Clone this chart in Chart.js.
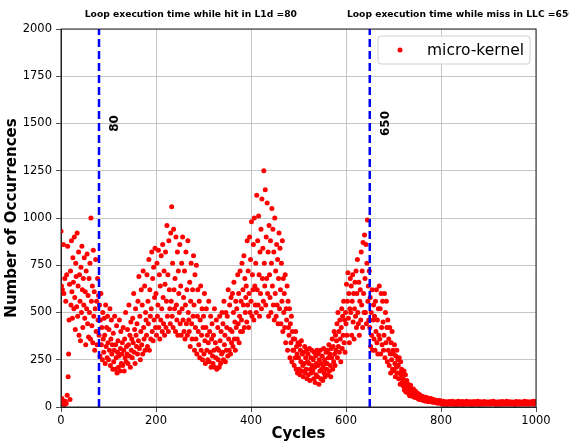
<!DOCTYPE html>
<html>
<head>
<meta charset="utf-8">
<script src="https://cdn.jsdelivr.net/npm/chart.js@4"></script>
<style>
  body { margin: 0; background: #fff; }
  #wrap { width: 569px; height: 445px; }
</style>
</head>
<body>
<div id="wrap"><canvas id="chart" width="569" height="445"></canvas></div>
<script>
// occurrences per cycle count (index = cycles within block)
const occ000 = [
  930, 640, 45, 620, 25, 860, 600, 12, 680, 30,
  560, 18, 700, 62, 850, 160, 280, 460, 650, 40,
  720, 540, 880, 610, 470, 790, 660, 520, 900, 580,
  410, 760, 690, 530, 920, 480, 640, 820, 380, 700,
  560, 350, 740, 500, 850, 620, 420, 680, 540, 790,
  470, 610, 330, 720, 520, 810, 440, 590, 370, 680,
  500, 760, 360, 1000, 560, 430, 640, 340, 830, 480,
  610, 300, 520, 780, 400, 560, 330, 680, 460, 590,
  380, 540, 270, 460, 600, 330, 420, 250, 500, 360,
  290, 470, 380, 230, 540, 320, 420, 260, 480, 340
];
const occ100 = [
  250, 410, 300, 520, 220, 360, 460, 280, 330, 200,
  390, 240, 300, 480, 200, 330, 260, 430, 180, 290,
  350, 210, 270, 460, 190, 310, 400, 230, 280, 340,
  220, 420, 300, 190, 360, 260, 500, 240, 320, 280,
  410, 230, 330, 540, 270, 380, 210, 450, 300, 360,
  260, 470, 340, 600, 290, 410, 230, 520, 380, 320,
  440, 280, 560, 350, 690, 310, 480, 250, 400, 620,
  330, 540, 280, 720, 420, 360, 640, 300, 500, 460,
  380, 700, 320, 560, 440, 780, 300, 620, 480, 360,
  520, 820, 400, 680, 350, 740, 460, 580, 840, 420
];
const occ200 = [
  600, 380, 760, 480, 540, 830, 420, 700, 360, 640,
  460, 800, 520, 400, 860, 580, 440, 720, 380, 650,
  820, 420, 560, 960, 480, 700, 400, 880, 620, 520,
  440, 920, 560, 1060, 480, 760, 420, 940, 620, 520,
  680, 400, 900, 540, 460, 820, 380, 720, 600, 500,
  860, 440, 640, 380, 760, 520, 900, 460, 580, 400,
  720, 360, 540, 820, 440, 620, 380, 880, 500, 460,
  400, 660, 320, 560, 760, 440, 360, 620, 480, 800,
  540, 300, 700, 420, 360, 750, 280, 480, 620, 400,
  330, 560, 260, 460, 640, 300, 380, 520, 250, 420
];
const occ300 = [
  480, 280, 600, 350, 230, 420, 520, 300, 380, 250,
  340, 560, 240, 400, 290, 480, 210, 360, 440, 270,
  230, 380, 300, 520, 210, 340, 260, 460, 200, 310,
  420, 250, 300, 210, 480, 350, 230, 400, 280, 500,
  290, 440, 250, 560, 330, 380, 240, 500, 300, 420,
  480, 270, 620, 360, 300, 540, 410, 280, 580, 340,
  400, 600, 320, 500, 660, 360, 450, 300, 560, 420,
  520, 360, 700, 440, 600, 340, 480, 720, 400, 560,
  460, 760, 400, 620, 540, 800, 420, 680, 500, 580,
  640, 450, 880, 540, 720, 420, 600, 900, 500, 780
];
const occ400 = [
  560, 980, 480, 700, 620, 860, 460, 1000, 640, 540,
  760, 500, 1120, 620, 880, 540, 1010, 700, 480, 820,
  600, 940, 520, 1100, 680, 840, 560, 1250, 760, 640,
  1150, 540, 900, 680, 1080, 600, 820, 480, 960, 700,
  580, 880, 500, 760, 1050, 640, 940, 540, 820, 460,
  1000, 600, 720, 480, 860, 540, 780, 440, 680, 920,
  520, 840, 620, 440, 760, 560, 880, 400, 680, 500,
  600, 420, 700, 340, 520, 460, 640, 300, 560, 420,
  380, 520, 260, 440, 340, 480, 240, 400, 300, 360,
  300, 220, 360, 260, 400, 200, 320, 280, 180, 340
];
const occ500 = [
  260, 200, 330, 170, 300, 240, 350, 190, 280, 220,
  160, 290, 230, 320, 180, 260, 200, 300, 150, 240,
  280, 170, 230, 310, 140, 200, 260, 180, 300, 220,
  190, 250, 150, 290, 210, 130, 270, 170, 230, 300,
  160, 220, 280, 120, 250, 190, 300, 150, 230, 200,
  270, 140, 210, 310, 180, 250, 160, 230, 290, 200,
  230, 300, 170, 260, 330, 190, 280, 220, 160, 310,
  260, 360, 200, 320, 240, 400, 280, 220, 380, 300,
  350, 440, 260, 500, 320, 400, 290, 460, 360, 240,
  420, 520, 310, 480, 380, 560, 340, 460, 290, 500
];
const occ600 = [
  440, 650, 380, 560, 710, 470, 600, 340, 520, 680,
  500, 640, 380, 560, 700, 450, 600, 360, 520, 660,
  480, 720, 420, 600, 780, 500, 440, 660, 380, 560,
  620, 460, 820, 540, 720, 420, 870, 600, 500, 910,
  680, 500, 860, 440, 760, 990, 560, 640, 460, 720,
  420, 580, 320, 500, 380, 620, 300, 460, 540, 360,
  480, 300, 560, 400, 620, 340, 460, 280, 520, 380,
  640, 360, 520, 280, 600, 420, 330, 560, 450, 300,
  380, 600, 260, 500, 340, 560, 420, 240, 460, 300,
  360, 220, 420, 280, 180, 340, 250, 400, 200, 300
];
const occ700 = [
  280, 190, 330, 230, 160, 270, 210, 300, 180, 250,
  220, 150, 260, 180, 120, 240, 170, 200, 130, 190,
  150, 110, 190, 90, 130, 170, 80, 120, 140, 100,
  95, 120, 70, 105, 60, 85, 115, 75, 90, 65,
  80, 55, 95, 60, 70, 50, 85, 65, 55, 75,
  60, 45, 70, 50, 40, 65, 55, 45, 38, 58,
  48, 40, 55, 35, 50, 42, 32, 46, 52, 38,
  40, 30, 48, 36, 28, 44, 34, 40, 30, 45,
  35, 28, 40, 25, 33, 38, 26, 30, 36, 24,
  30, 22, 34, 26, 20, 32, 24, 28, 35, 21
];
const occ800 = [
  24, 18, 27, 15, 22, 30, 19, 14, 25, 21,
  17, 28, 20, 13, 23, 26, 16, 22, 29, 18,
  21, 15, 26, 19, 31, 14, 23, 20, 27, 17,
  25, 12, 22, 28, 18, 24, 16, 30, 20, 15,
  19, 26, 14, 23, 21, 29, 17, 25, 13, 22,
  27, 18, 24, 16, 30, 20, 15, 23, 19, 26,
  14, 22, 28, 17, 25, 21, 12, 24, 18, 29,
  20, 16, 23, 27, 15, 22, 19, 31, 17, 24,
  26, 13, 21, 18, 28, 16, 23, 20, 25, 14,
  22, 29, 17, 24, 19, 15, 27, 21, 18, 25
];
const occ900 = [
  16, 23, 20, 28, 14, 22, 26, 18, 24, 19,
  30, 17, 21, 15, 25, 20, 27, 13, 23, 18,
  24, 19, 28, 16, 22, 14, 26, 21, 17, 29,
  18, 25, 15, 23, 20, 27, 16, 22, 30, 19,
  21, 14, 26, 18, 24, 28, 17, 23, 15, 20,
  27, 19, 22, 16, 25, 13, 24, 20, 29, 18,
  15, 23, 26, 17, 21, 28, 19, 14, 25, 22,
  20, 27, 16, 24, 18, 23, 30, 15, 21, 26,
  17, 22, 28, 19, 14, 25, 21, 27, 16, 23,
  24, 18, 29, 20, 26, 15, 31, 22, 28, 25
];

const blocks = [occ000, occ100, occ200, occ300, occ400, occ500, occ600, occ700, occ800, occ900];

// reference lines
const markerCycles = [80, 650];
const markerLabels = ["80", "650"];
const markerTitles = [
    "Loop execution time while hit in L1d =80",
    "Loop execution time while miss in LLC =650"
];

const points = [];
blocks.forEach((block, b) => {
    block.forEach((v, i) => {
        points.push({ x: b * 100 + i, y: v });
    });
});

const FONT = "'DejaVu Sans', sans-serif";

const markersPlugin = {
    id: "markers",
    afterDatasetsDraw(chart) {
        const { ctx, chartArea, scales } = chart;
        ctx.save();
        markerCycles.forEach((c, i) => {
            const px = scales.x.getPixelForValue(c);

            ctx.strokeStyle = "#0000ff";
            ctx.lineWidth = 2.5;
            ctx.setLineDash([8, 4]);
            ctx.beginPath();
            ctx.moveTo(px, chartArea.bottom);
            ctx.lineTo(px, chartArea.top);
            ctx.stroke();
            ctx.setLineDash([]);

            // rotated value label
            const lx = scales.x.getPixelForValue(c + 34);
            const ly = scales.y.getPixelForValue(1500);
            ctx.save();
            ctx.translate(lx, ly);
            ctx.rotate(-Math.PI / 2);
            ctx.fillStyle = "#000";
            ctx.font = "bold 12px " + FONT;
            ctx.textAlign = "center";
            ctx.textBaseline = "middle";
            ctx.fillText(markerLabels[i], 0, 0);
            ctx.restore();

            // small title above the plot
            ctx.fillStyle = "#000";
            ctx.font = "bold 9.2px " + FONT;
            ctx.textAlign = "left";
            ctx.textBaseline = "middle";
            ctx.fillText(markerTitles[i], scales.x.getPixelForValue(c - 30 - i * 18), 15);
        });

        // frame
        ctx.strokeStyle = "#222";
        ctx.lineWidth = 1;
        ctx.strokeRect(chartArea.left, chartArea.top,
            chartArea.right - chartArea.left, chartArea.bottom - chartArea.top);

        // legend box
        const bx = 378, by = 36, bw = 152, bh = 28;
        ctx.fillStyle = "rgba(255,255,255,0.85)";
        ctx.strokeStyle = "#d0d0d0";
        ctx.lineWidth = 1;
        ctx.beginPath();
        ctx.roundRect(bx, by, bw, bh, 3);
        ctx.fill();
        ctx.stroke();
        ctx.fillStyle = "#ff0000";
        ctx.beginPath();
        ctx.arc(bx + 22, by + bh / 2, 2.5, 0, Math.PI * 2);
        ctx.fill();
        ctx.fillStyle = "#000";
        ctx.font = "15.5px " + FONT;
        ctx.textAlign = "left";
        ctx.textBaseline = "middle";
        ctx.fillText("micro-kernel", bx + 49, by + bh / 2 + 1);
        ctx.restore();
    }
};

new Chart(
    document.getElementById("chart"),
    {
        type: "scatter",
        data: {
            datasets: [{
                label: "micro-kernel",
                data: points,
                backgroundColor: "#ff0000",
                borderWidth: 0,
                pointRadius: 2.5,
                pointHoverRadius: 2.5
            }]
        },
        options: {
            responsive: false,
            animation: false,
            devicePixelRatio: 1,
            layout: { padding: { top: 29, right: 33, left: 0, bottom: 0 } },
            plugins: {
                legend: { display: false },
                tooltip: { enabled: false }
            },
            scales: {
                x: {
                    type: "linear",
                    min: 0,
                    max: 1000,
                    ticks: { stepSize: 200, color: "#000", font: { family: FONT, size: 11.5 }, padding: 2, maxRotation: 0, callback: v => String(v) },
                    grid: { color: "#b8b8b8", lineWidth: 0.8, tickLength: 5, tickColor: "#222" },
                    border: { color: "#222", width: 1 },
                    title: { display: true, text: "Cycles", color: "#000", font: { family: FONT, size: 15, weight: "bold" }, padding: { top: 0, bottom: 2 } },
                    afterFit(scale) { scale.height = 38; }
                },
                y: {
                    min: 0,
                    max: 2000,
                    ticks: { stepSize: 250, color: "#000", font: { family: FONT, size: 11.5 }, padding: 4, callback: v => String(v) },
                    grid: { color: "#b8b8b8", lineWidth: 0.8, tickLength: 5, tickColor: "#222" },
                    border: { color: "#222", width: 1 },
                    title: { display: true, text: "Number of Occurrences", color: "#000", font: { family: FONT, size: 15, weight: "bold" }, padding: { top: 3, bottom: 0 } },
                    afterFit(scale) { scale.width = 61; }
                }
            }
        },
        plugins: [markersPlugin]
    }
);
</script>
</body>
</html>
